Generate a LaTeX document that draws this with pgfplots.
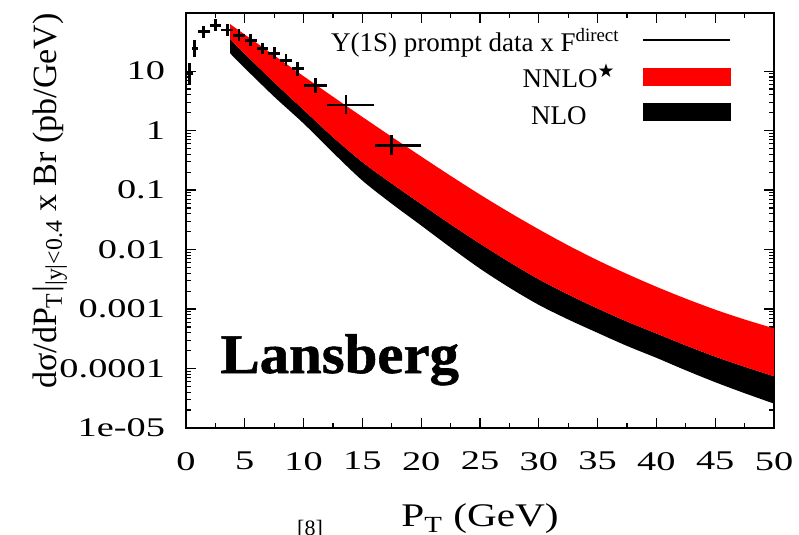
\documentclass[border=0pt]{standalone}
\usepackage{fontspec}
\setmainfont{Liberation Serif}
\newfontfamily\tickfont{Liberation Serif}[FakeStretch=1.42]
\newfontfamily\labfont{Liberation Serif}[FakeStretch=1.25]
\newfontfamily\symfont{DejaVu Sans}
\newfontfamily\lansfont{Liberation Serif Bold}[FakeBold=1,FakeStretch=1.05]
\usepackage{pgfplots}
\usepackage{pgfplotstable}
\pgfplotsset{compat=1.18}
\usepgfplotslibrary{fillbetween}

% theory bands: NNLO* upper, NNLO* lower (= NLO upper seen), NLO lower
\pgfplotstableread{
pt    nnloup     nnlolo     nlolo
3.75  61.7       34.7       19.95
5     41.2       19.5       11.22
7.5   18.41      6.46       3.715
10    8.22       2.239      1.318
12.5  3.715      0.776      0.4266
15    1.698      0.295      0.1445
17.5  0.785      0.1288     0.0589
20    0.367      0.0582     0.0254
22.5  0.1738     0.0266     0.01084
25    0.0841     0.01259    0.004786
27.5  0.0422     0.00617    0.002291
30    0.02188    0.003162   0.001175
32.5  0.01175    0.001758   0.000668
35    0.00661    0.001023   0.000398
37.5  0.00389    0.000617   0.000240
40    0.00237    0.000389   0.0001514
42.5  0.001496   0.000245   0.0000933
45    0.000977   0.0001585  0.0000589
47.5  0.000668   0.0001072  0.0000385
50    0.000473   0.0000741  0.0000257
}\bands

\begin{document}
\begin{tikzpicture}
\begin{axis}[
  scale only axis, width=294pt, height=207.5pt,
  xmin=0, xmax=50, ymode=log, ymin=1e-5, ymax=95,
  xtick={0,5,...,50}, minor x tick num=1,
  ytick={1e-5,1e-4,1e-3,1e-2,1e-1,1,10},
  yticklabels={1e-05,0.0001,0.001,0.01,0.1,1,10},
  /pgf/number format/assume math mode=true,
  tick label style={font=\tickfont\fontsize{13.5}{15}\selectfont},
  xticklabel style={yshift=-8.5pt},
  yticklabel style={xshift=-7pt},
  major tick length=5pt, minor tick length=2.5pt,
  every tick/.style={black, line width=0.6pt},
  axis line style={line width=1pt},
  xlabel={P\textsubscript{T} (GeV)},
  xlabel style={font=\labfont\fontsize{16.5}{18}\selectfont, at={(axis description cs:0.5,0)}, anchor=base, yshift=-49.5pt},
  ylabel={dσ/dP\textsubscript{T}|\textsubscript{|y|<0.4} x Br (pb/GeV)},
  ylabel style={font=\fontsize{17}{19}\selectfont, at={(axis description cs:-0.231,0.547)}, anchor=center},
]
\addplot[draw=none, smooth, name path=top] table[x=pt, y=nnloup]{\bands};
\addplot[draw=none, smooth, name path=mid] table[x=pt, y=nnlolo]{\bands};
\addplot[draw=none, smooth, name path=bot] table[x=pt, y=nlolo]{\bands};
\addplot[black] fill between[of=mid and bot];
\addplot[red] fill between[of=top and mid];

% prompt Upsilon(1S) data x F_direct
\addplot[draw=none, mark=none,
  error bars/.cd, x dir=both, x explicit, y dir=both, y explicit,
  error mark=none, error bar style={draw=black, line width=1.4pt}]
coordinates {
(0.3,9.0)   += (0.3,4.6)  -= (0.3,3.05)
(0.75,24)   += (0.25,9.9) -= (0.25,7.0)
(1.5,46)    += (0.5,11.9) -= (0.5,9.5)
(2.5,59)    += (0.5,15.3) -= (0.5,12.1)
(3.5,49)    += (0.5,12.7) -= (0.5,10.1)
(4.5,40)    += (0.5,10.4) -= (0.5,8.2)
(5.5,33)    += (0.5,8.5)  -= (0.5,6.8)
(6.5,24)    += (0.5,6.2)  -= (0.5,4.9)
(7.5,20)    += (0.5,5.2)  -= (0.5,4.1)
(8.5,15.3)  += (0.5,4.0)  -= (0.5,3.2)
(9.5,11)    += (0.5,3.5)  -= (0.5,2.65)
(11,5.8)    += (1,2.0)    -= (1,1.5)
(13.6,2.7)  += (2.4,1.2)  -= (1.6,0.83)
(17.5,0.57) += (2.5,0.27) -= (1.45,0.185)
};

\node[anchor=base west, inner sep=0pt, font=\lansfont\fontsize{28}{30}\selectfont]
  at (axis cs:2.9,8.4e-5) {Lansberg};
\end{axis}

% key
\draw[line width=1.2pt] (228.5pt,194pt) -- (272pt,194pt);
\node[anchor=base east, inner sep=0pt, font=\fontsize{13.5}{15}\selectfont]
  at (217pt,188pt) {Υ(1S) prompt data x F\textsuperscript{direct}};
\fill[red] (228.5pt,171.2pt) rectangle (272.5pt,180.2pt);
\node[anchor=base east, inner sep=0pt, font=\fontsize{13.5}{15}\selectfont]
  at (215pt,170pt) {NNLO\textsuperscript{\symfont ★}};
\fill[black] (228.5pt,153.5pt) rectangle (272.5pt,162.3pt);
\node[anchor=base east, inner sep=0pt, font=\fontsize{13.5}{15}\selectfont]
  at (200.5pt,151.5pt) {NLO};

\node[anchor=north, inner sep=0pt, font=\fontsize{11}{12}\selectfont] at (62pt,-46pt) {[8]};

\pgfresetboundingbox
\path[use as bounding box] (-93pt,-53.5pt) rectangle (306.5pt,214pt);
\end{tikzpicture}
\end{document}
